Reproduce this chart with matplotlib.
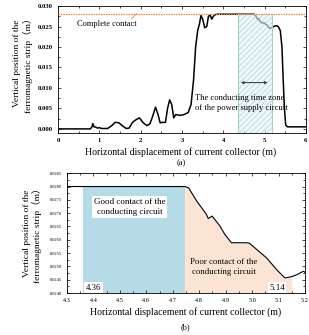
import numpy as np
import matplotlib
matplotlib.use('Agg')
import matplotlib.pyplot as plt
from matplotlib.ticker import MultipleLocator, FormatStrFormatter

plt.rcParams['font.family'] = ['Liberation Serif', 'Noto Sans CJK SC']
plt.rcParams['hatch.linewidth'] = 0.6

# (a) full trace
xa = [0, 0.78, 0.82, 0.84, 0.87, 0.92, 0.95, 1.0, 1.05, 1.2, 1.3, 1.38, 1.47, 1.55,
      1.65, 1.72, 1.8, 1.88, 1.97, 2.05, 2.15, 2.22, 2.28, 2.36, 2.42, 2.47, 2.55,
      2.6, 2.65, 2.7, 2.75, 2.8, 2.85, 2.95, 3.05, 3.15, 3.22, 3.28, 3.33, 3.38,
      3.42, 3.46, 3.5, 3.55, 3.6, 3.64, 3.68, 3.72, 3.78, 3.85, 4.75, 4.79, 4.83,
      4.85, 4.9, 4.93, 4.99, 5.06, 5.12, 5.17, 5.22, 5.28, 5.33, 5.38, 5.42, 5.45,
      5.48, 5.51, 5.55, 6.0]
ya = [0, 0, 0.0005, 0.0013, 0.0005, 0.0004, 0.0002, 0.0003, 0.0001, 0.0001, 0.0008,
      0.0016, 0.0015, 0.0008, 0.0001, 0.0002, 0.0016, 0.0022, 0.0027, 0.0016, 0.0008,
      0.0012, 0.0028, 0.0053, 0.0035, 0.0015, 0.0016, 0.0016, 0.0050, 0.0071, 0.0060,
      0.0027, 0.0035, 0.0033, 0.0035, 0.0040, 0.0060, 0.0120, 0.0200, 0.0240, 0.0255,
      0.0277, 0.0268, 0.0247, 0.0250, 0.0275, 0.0278, 0.0268, 0.0278, 0.0280, 0.0280,
      0.02746, 0.0268, 0.02689, 0.0262, 0.02589, 0.02589, 0.0253, 0.0246, 0.0247,
      0.0250, 0.0252, 0.0250, 0.0240, 0.0200, 0.0120, 0.0050, 0.0010, 0.0005, 0.0005]
complete_contact = 0.028
zone_start, zone_end = 4.36, 5.14

# (b) zoomed trace
xb = [4.3, 4.745, 4.76, 4.79, 4.827, 4.834, 4.849, 4.878, 4.897, 4.922, 4.979, 4.99,
      5.055, 5.093, 5.124, 5.13, 5.15, 5.169, 5.194, 5.2]
yb = [0.0280, 0.0280, 0.02795, 0.02746, 0.02696, 0.02680, 0.02689, 0.02652, 0.0262,
      0.02589, 0.02589, 0.02587, 0.02532, 0.02488, 0.02457, 0.02458, 0.02462, 0.02469,
      0.02482, 0.02478]
good_end, poor_end = 4.745, 5.15

fig = plt.figure(figsize=(3.09, 3.35), dpi=100)

def style(ax, fs):
    ax.tick_params(which='both', direction='in', top=True, right=True, labelsize=fs, width=0.5)
    ax.tick_params(which='major', length=2.5)
    ax.tick_params(which='minor', length=1.3)
    for s in ax.spines.values():
        s.set_linewidth(0.6)

# ---- (a)
ax = fig.add_axes([0.188, 0.603, 0.802, 0.379])
ax.plot(xa, ya, color='black', lw=1.1, zorder=2)
ax.axhline(complete_contact, color='#f08a3c', ls=(0, (1.2, 0.8)), lw=0.9, zorder=3)
ax.axvspan(4.35, 5.18, ymax=(complete_contact + 0.001) / 0.031, facecolor='#e6f3f6',
           edgecolor='#8cc4d2', hatch='//////', lw=0, alpha=0.6, zorder=2.5)
for xv in (4.35, 5.18):
    ax.plot([xv, xv], [-0.001, complete_contact], color='#9ed6bd', lw=0.8, zorder=3)
ax.annotate('', xy=(4.36, 0.0113), xytext=(5.14, 0.0113),
            arrowprops=dict(arrowstyle='<->', color='#333333', lw=0.7,
                            mutation_scale=4), zorder=4)
ax.text(3.31, 0.0064, 'The conducting time zone\nof the power supply circuit',
        fontsize=6.1, ha='left', va='center', linespacing=1.3, zorder=4)
ax.text(0.45, 0.0257, 'Complete contact', fontsize=6, ha='left', va='center')
ax.plot([1.78, 1.9], [0.0269, 0.0281], color='#f08a3c', lw=0.6)
ax.set_xlim(0, 6)
ax.set_ylim(-0.001, 0.030)
ax.xaxis.set_major_locator(MultipleLocator(1))
ax.xaxis.set_minor_locator(MultipleLocator(0.5))
ax.yaxis.set_major_locator(MultipleLocator(0.005))
ax.yaxis.set_minor_locator(MultipleLocator(0.0025))
ax.yaxis.set_major_formatter(FormatStrFormatter('%.3f'))
style(ax, 4.8)
for t in ax.get_xticklabels() + ax.get_yticklabels():
    t.set_fontweight('bold')
fig.text(0.075, 0.81, 'Vertical position of the\nferromagnetic strip\uff08m\uff09',
         rotation=90, ha='center', va='center', fontsize=6.8, linespacing=1.2)
fig.text(0.585, 0.546, 'Horizontal displacement of current collector (m)',
         ha='center', va='center', fontsize=7)
fig.text(0.585, 0.513, '(a)', ha='center', va='center', fontsize=6)

# ---- (b)
bx = fig.add_axes([0.217, 0.125, 0.770, 0.358])
xb_arr = np.array(xb)
yb_arr = np.array(yb)
bx.fill_between([4.36, good_end], 0.024, 0.028, color='#b4dbe6', lw=0, zorder=1)
mask = (xb_arr >= good_end) & (xb_arr <= poor_end)
bx.fill_between(xb_arr[mask], 0.024, yb_arr[mask], color='#fbe4d4', lw=0, zorder=1)
bx.plot(xb, yb, color='black', lw=0.8, zorder=2)
bx.text(4.536, 0.02723, 'Good contact of the\nconducting circuit', fontsize=6.5,
        ha='center', va='center', linespacing=1.3,
        bbox=dict(facecolor='white', edgecolor='none', pad=1.5))
bx.text(4.893, 0.02497, 'Poor contact of the\nconducting circuit', fontsize=6.3,
        ha='center', va='center', linespacing=1.3)
bx.text(4.40, 0.02421, '4.36', fontsize=6.3, ha='center', va='center',
        bbox=dict(facecolor='white', edgecolor='none', pad=1))
bx.text(5.095, 0.02421, '5.14', fontsize=6.3, ha='center', va='center',
        bbox=dict(facecolor='white', edgecolor='none', pad=1))
bx.set_xlim(4.3, 5.2)
bx.set_ylim(0.0240, 0.0285)
bx.xaxis.set_major_locator(MultipleLocator(0.1))
bx.xaxis.set_minor_locator(MultipleLocator(0.05))
bx.yaxis.set_major_locator(MultipleLocator(0.0005))
bx.yaxis.set_minor_locator(MultipleLocator(0.00025))
bx.yaxis.set_major_formatter(FormatStrFormatter('%.4f'))
style(bx, 3.2)
bx.tick_params(axis='x', labelsize=4.5)
fig.text(0.105, 0.305, 'Vertical position of the\nferromagnetic strip\uff08m\uff09',
         rotation=90, ha='center', va='center', fontsize=6.8, linespacing=1.2)
fig.text(0.6, 0.069, 'Horizontal displacement of current collector (m)',
         ha='center', va='center', fontsize=7)
fig.text(0.6, 0.024, '(b)', ha='center', va='center', fontsize=6)

fig.savefig('out.png', dpi=100)
